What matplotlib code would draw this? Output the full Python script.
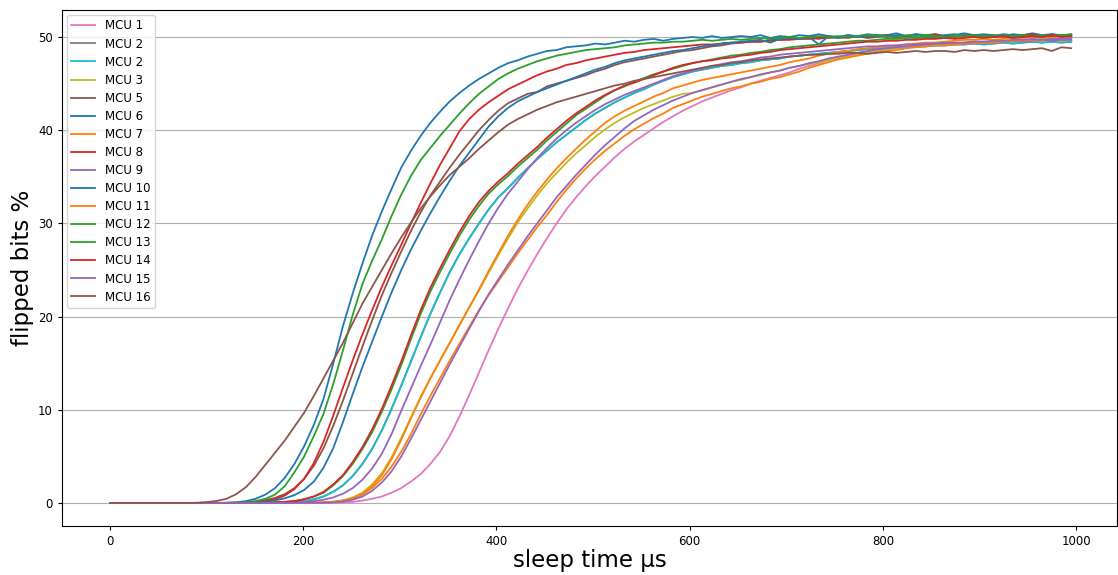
import numpy as np
import matplotlib
matplotlib.use("Agg")
import matplotlib.pyplot as plt

# sleep time grid (µs)
sleep_us = np.linspace(0, 995, 100)

# flipped bits (%) per MCU at ~10 µs steps
mcu1 = [0, 0, 0, 0, 0, 0, 0, 0, 0, 0,
        0, 0, 0, 0, 0, 0, 0, 0, 0, 0,
        0.01, 0.01, 0.02, 0.04, 0.07, 0.12, 0.25, 0.45, 0.7, 1.1,
        1.6, 2.3, 3.1, 4.2, 5.5, 7.2, 9.3, 11.6, 14.0, 16.4,
        18.7, 20.9, 23.0, 24.9, 26.7, 28.4, 30.0, 31.5, 32.8, 34.0,
        35.1, 36.1, 37.1, 38.0, 38.8, 39.5, 40.2, 40.9, 41.5, 42.1,
        42.6, 43.1, 43.5, 43.9, 44.3, 44.6, 45.0, 45.3, 45.6, 45.9,
        46.2, 46.6, 46.9, 47.2, 47.5, 47.8, 48.0, 48.2, 48.4, 48.6,
        48.7, 48.8, 48.9, 49.0, 49.0, 49.1, 49.2, 49.2, 49.3, 49.3,
        49.4, 49.4, 49.5, 49.4, 49.5, 49.5, 49.6, 49.5, 49.6, 49.6]
mcu2 = [0, 0, 0, 0, 0, 0, 0, 0, 0, 0,
        0, 0, 0, 0, 0, 0.01, 0.02, 0.03, 0.05, 0.08,
        0.2, 0.4, 0.7, 1.2, 1.9, 2.9, 4.2, 5.8, 7.8, 10.1,
        12.6, 15.2, 17.8, 20.3, 22.6, 24.8, 26.7, 28.4, 30.0, 31.5,
        32.8, 33.8, 34.9, 35.9, 36.9, 37.8, 38.7, 39.5, 40.3, 41.1,
        41.8, 42.4, 43.0, 43.5, 44.0, 44.4, 44.9, 45.3, 45.7, 46.0,
        46.3, 46.5, 46.7, 46.9, 47.0, 47.2, 47.3, 47.5, 47.6, 47.7,
        47.9, 48.0, 48.1, 48.2, 48.3, 48.4, 48.5, 48.6, 48.7, 48.7,
        48.8, 48.9, 48.9, 49.0, 49.0, 49.1, 49.1, 49.2, 49.2, 49.3,
        49.2, 49.3, 49.4, 49.3, 49.4, 49.5, 49.4, 49.5, 49.4, 49.5]
mcu3 = [0, 0, 0, 0, 0, 0, 0, 0, 0, 0,
        0, 0, 0, 0, 0, 0, 0, 0, 0.01, 0.01,
        0.02, 0.04, 0.08, 0.15, 0.3, 0.6, 1.1, 2.0, 3.2, 4.9,
        7.0, 9.2, 11.4, 13.4, 15.3, 17.2, 19.1, 21.0, 22.8, 24.7,
        26.6, 28.4, 30.1, 31.6, 33.0, 34.3, 35.4, 36.5, 37.5, 38.4,
        39.3, 40.1, 40.8, 41.4, 41.9, 42.4, 42.8, 43.2, 43.6, 43.9,
        44.0, 44.3, 44.6, 44.9, 45.2, 45.4, 45.7, 45.9, 46.2, 46.4,
        46.7, 46.9, 47.1, 47.3, 47.5, 47.7, 47.9, 48.1, 48.3, 48.4,
        48.7, 48.8, 48.9, 49.0, 49.1, 49.2, 49.2, 49.3, 49.4, 49.4,
        49.5, 49.5, 49.6, 49.5, 49.6, 49.7, 49.6, 49.7, 49.6, 49.7]
mcu5 = [0, 0, 0, 0, 0, 0, 0, 0, 0, 0,
        0, 0, 0.01, 0.03, 0.07, 0.15, 0.3, 0.55, 0.95, 1.6,
        2.6, 4.0, 5.9, 8.3, 11.0, 13.9, 16.8, 19.6, 22.3, 24.7,
        27.0, 29.2, 31.2, 33.0, 34.5, 36.0, 37.4, 38.7, 40.0, 41.1,
        42.1, 42.9, 43.4, 43.9, 44.1, 44.7, 45.0, 45.3, 45.6, 45.9,
        46.3, 46.6, 47.0, 47.3, 47.5, 47.7, 47.9, 48.1, 48.3, 48.5,
        48.6, 48.8, 49.0, 49.1, 49.3, 49.4, 49.5, 49.5, 49.7, 49.7,
        49.8, 49.8, 49.9, 49.8, 50.0, 49.9, 50.0, 50.1, 49.9, 50.0,
        50.1, 50.0, 50.1, 49.9, 50.0, 50.1, 50.0, 50.1, 50.2, 50.0,
        50.1, 50.0, 50.1, 50.2, 50.0, 50.1, 50.0, 50.1, 50.2, 50.1]
mcu6 = [0, 0, 0, 0, 0, 0, 0, 0, 0, 0,
        0, 0.01, 0.03, 0.08, 0.2, 0.45, 0.9, 1.6, 2.7, 4.2,
        6.1, 8.4, 11.2, 15.0, 19.0, 22.5, 25.7, 28.7, 31.3, 33.7,
        36.0, 37.8, 39.4, 40.8, 42.0, 43.1, 44.0, 44.8, 45.5, 46.1,
        46.7, 47.2, 47.5, 47.9, 48.2, 48.5, 48.6, 48.9, 49.0, 49.1,
        49.3, 49.2, 49.4, 49.6, 49.5, 49.7, 49.8, 49.6, 49.8, 49.9,
        50.0, 49.9, 50.1, 49.9, 50.0, 50.1, 50.0, 50.2, 49.9, 50.1,
        50.0, 50.2, 50.1, 50.3, 50.1, 50.0, 50.2, 50.1, 50.3, 50.2,
        50.2, 50.4, 50.1, 50.3, 50.2, 50.3, 50.1, 50.2, 50.4, 50.2,
        50.3, 50.2, 50.1, 50.3, 50.2, 50.4, 50.2, 50.3, 50.1, 50.2]
mcu7 = [0, 0, 0, 0, 0, 0, 0, 0, 0, 0,
        0, 0, 0, 0, 0, 0, 0, 0, 0.01, 0.01,
        0.02, 0.03, 0.06, 0.12, 0.25, 0.5, 1.0, 1.8, 3.0, 4.7,
        6.8, 9.1, 11.3, 13.4, 15.3, 17.2, 19.1, 21.0, 22.9, 24.9,
        26.8, 28.7, 30.4, 32.0, 33.4, 34.7, 35.9, 37.0, 38.0, 39.0,
        39.9, 40.8, 41.5, 42.1, 42.6, 43.1, 43.6, 44.0, 44.5, 44.8,
        45.1, 45.4, 45.6, 45.8, 46.0, 46.2, 46.4, 46.6, 46.8, 47.0,
        47.3, 47.5, 47.7, 48.0, 48.2, 48.4, 48.5, 48.7, 48.8, 48.9,
        49.0, 49.1, 49.2, 49.3, 49.4, 49.4, 49.5, 49.6, 49.7, 49.7,
        49.8, 49.7, 49.8, 49.9, 49.9, 50.0, 49.9, 50.0, 50.1, 50.0]
mcu8 = [0, 0, 0, 0, 0, 0, 0, 0, 0, 0,
        0, 0, 0, 0.01, 0.03, 0.08, 0.18, 0.4, 0.8, 1.5,
        2.6, 4.3, 6.6, 9.4, 12.4, 15.3, 18.1, 20.7, 23.2, 25.5,
        27.7, 30.0, 32.2, 34.3, 36.3, 38.1, 39.9, 41.2, 42.2, 43.0,
        43.7, 44.4, 44.9, 45.4, 45.9, 46.3, 46.6, 47.0, 47.2, 47.5,
        47.7, 47.9, 48.1, 48.3, 48.4, 48.6, 48.7, 48.8, 48.9, 49.0,
        49.1, 49.2, 49.2, 49.3, 49.4, 49.4, 49.5, 49.5, 49.6, 49.7,
        49.7, 49.8, 49.8, 49.9, 49.9, 50.0, 49.9, 50.1, 50.0, 50.1,
        50.2, 50.0, 50.1, 50.2, 50.1, 50.3, 50.1, 50.0, 50.2, 50.1,
        50.2, 50.1, 50.2, 50.0, 50.2, 50.3, 50.1, 50.2, 50.1, 50.2]
mcu9 = [0, 0, 0, 0, 0, 0, 0, 0, 0, 0,
        0, 0, 0, 0, 0, 0, 0.01, 0.02, 0.03, 0.05,
        0.1, 0.2, 0.35, 0.6, 1.0, 1.6, 2.5, 3.7, 5.3, 7.4,
        9.9, 12.3, 14.7, 17.0, 19.4, 21.8, 24.0, 26.1, 28.1, 30.0,
        31.7, 33.2, 34.5, 35.8, 37.0, 38.1, 39.1, 40.0, 40.8, 41.5,
        42.2, 42.8, 43.3, 43.8, 44.2, 44.6, 45.0, 45.4, 45.8, 46.1,
        46.4, 46.6, 46.9, 47.1, 47.3, 47.4, 47.6, 47.8, 47.9, 48.1,
        48.2, 48.3, 48.4, 48.5, 48.6, 48.7, 48.8, 48.9, 49.0, 49.0,
        49.1, 49.1, 49.2, 49.2, 49.3, 49.3, 49.4, 49.3, 49.4, 49.5,
        49.5, 49.4, 49.5, 49.6, 49.5, 49.6, 49.7, 49.6, 49.7, 49.7]
mcu10 = [0, 0, 0, 0, 0, 0, 0, 0, 0, 0,
         0, 0, 0, 0.01, 0.03, 0.07, 0.14, 0.28, 0.5, 0.85,
         1.4, 2.3, 3.8, 5.9, 8.7, 11.7, 14.6, 17.3, 20.0, 22.6,
         25.0, 27.2, 29.2, 31.1, 32.9, 34.6, 36.2, 37.6, 39.0, 40.4,
         41.5, 42.4, 43.1, 43.6, 44.1, 44.5, 44.9, 45.3, 45.7, 46.1,
         46.5, 46.8, 47.2, 47.5, 47.7, 47.9, 48.1, 48.3, 48.5, 48.6,
         48.8, 49.0, 49.1, 49.3, 49.4, 49.5, 49.6, 49.7, 49.4, 49.8,
         49.9, 49.8, 50.0, 49.2, 50.1, 49.9, 50.2, 50.0, 50.1, 50.2,
         50.0, 50.2, 50.1, 50.3, 50.1, 50.0, 50.2, 50.3, 50.1, 50.2,
         50.2, 50.1, 50.3, 50.2, 50.0, 50.2, 50.1, 50.3, 50.2, 50.1]
mcu11 = [0, 0, 0, 0, 0, 0, 0, 0, 0, 0,
         0, 0, 0, 0, 0, 0, 0, 0, 0, 0,
         0.01, 0.02, 0.04, 0.08, 0.2, 0.45, 0.9, 1.6, 2.6, 3.9,
         5.5, 7.4, 9.5, 11.5, 13.4, 15.3, 17.1, 18.9, 20.7, 22.3,
         23.8, 25.3, 26.8, 28.2, 29.6, 30.9, 32.3, 33.6, 34.8, 35.9,
         36.9, 37.8, 38.6, 39.4, 40.1, 40.7, 41.3, 41.8, 42.4, 42.8,
         43.2, 43.6, 43.9, 44.2, 44.5, 44.7, 45.0, 45.2, 45.5, 45.7,
         46.0, 46.3, 46.7, 47.0, 47.3, 47.6, 47.8, 48.0, 48.2, 48.4,
         48.5, 48.6, 48.8, 48.9, 49.0, 49.1, 49.1, 49.2, 49.3, 49.3,
         49.4, 49.4, 49.5, 49.6, 49.6, 49.7, 49.7, 49.8, 49.8, 49.9]
mcu12 = [0, 0, 0, 0, 0, 0, 0, 0, 0, 0,
         0, 0, 0.01, 0.03, 0.08, 0.2, 0.45, 0.9, 1.8, 3.3,
         5.0, 7.2, 9.6, 12.8, 16.4, 20.2, 23.5, 26.0, 28.3, 30.8,
         33.1, 35.1, 36.8, 38.1, 39.4, 40.6, 41.8, 42.9, 43.9, 44.7,
         45.5, 46.1, 46.6, 47.0, 47.4, 47.7, 48.0, 48.2, 48.4, 48.6,
         48.7, 48.8, 48.9, 49.1, 49.2, 49.3, 49.4, 49.4, 49.5, 49.5,
         49.6, 49.7, 49.6, 49.7, 49.8, 49.7, 49.8, 49.9, 49.8, 49.9,
         50.0, 49.9, 50.0, 50.1, 50.0, 50.1, 50.0, 50.1, 50.2, 50.1,
         50.1, 50.0, 50.2, 50.1, 50.2, 50.1, 50.0, 50.2, 50.1, 50.2,
         50.1, 50.2, 50.0, 50.1, 50.2, 50.1, 50.2, 50.1, 50.2, 50.3]
mcu13 = [0, 0, 0, 0, 0, 0, 0, 0, 0, 0,
         0, 0, 0, 0, 0.01, 0.02, 0.04, 0.07, 0.12, 0.2,
         0.4, 0.7, 1.1, 1.9, 2.9, 4.2, 5.8, 7.6, 9.8, 12.2,
         14.8, 17.6, 20.3, 22.7, 24.8, 26.8, 28.7, 30.4, 31.9, 33.2,
         34.2, 35.1, 36.1, 37.0, 37.9, 38.9, 39.8, 40.7, 41.6, 42.3,
         43.0, 43.7, 44.3, 44.7, 45.2, 45.6, 46.0, 46.3, 46.6, 46.9,
         47.2, 47.4, 47.6, 47.8, 48.0, 48.1, 48.3, 48.4, 48.6, 48.7,
         48.9, 49.0, 49.1, 49.2, 49.3, 49.4, 49.5, 49.6, 49.6, 49.7,
         49.8, 49.8, 49.9, 49.9, 50.0, 49.9, 50.0, 50.1, 50.0, 50.1,
         50.1, 50.0, 50.2, 50.1, 50.2, 50.1, 50.0, 50.2, 50.1, 50.3]
mcu14 = [0, 0, 0, 0, 0, 0, 0, 0, 0, 0,
         0, 0, 0, 0, 0.01, 0.02, 0.04, 0.07, 0.12, 0.2,
         0.4, 0.7, 1.2, 2.0, 3.0, 4.4, 6.0, 7.9, 10.1, 12.6,
         15.2, 18.0, 20.7, 23.1, 25.2, 27.2, 29.1, 30.8, 32.3, 33.5,
         34.5, 35.4, 36.4, 37.3, 38.2, 39.2, 40.1, 41.0, 41.8, 42.5,
         43.2, 43.8, 44.3, 44.8, 45.1, 45.5, 45.9, 46.3, 46.7, 47.0,
         47.2, 47.4, 47.5, 47.7, 47.8, 48.0, 48.1, 48.3, 48.4, 48.6,
         48.7, 48.8, 48.9, 49.0, 49.1, 49.2, 49.3, 49.4, 49.5, 49.5,
         49.6, 49.6, 49.7, 49.7, 49.8, 49.8, 49.9, 49.8, 49.9, 50.0,
         49.9, 50.0, 50.1, 49.9, 50.0, 50.1, 50.0, 50.2, 50.0, 50.1]
mcu15 = [0, 0, 0, 0, 0, 0, 0, 0, 0, 0,
         0, 0, 0, 0, 0, 0, 0, 0, 0, 0,
         0.01, 0.02, 0.03, 0.06, 0.15, 0.35, 0.7, 1.3, 2.2, 3.4,
         5.0, 6.9, 8.9, 10.9, 12.9, 14.9, 16.8, 18.7, 20.6, 22.4,
         24.0, 25.6, 27.1, 28.6, 30.0, 31.4, 32.8, 34.0, 35.2, 36.3,
         37.4, 38.4, 39.3, 40.2, 41.0, 41.6, 42.2, 42.7, 43.2, 43.6,
         44.0, 44.3, 44.6, 44.9, 45.2, 45.5, 45.7, 46.0, 46.2, 46.4,
         46.7, 46.9, 47.2, 47.4, 47.7, 47.9, 48.1, 48.3, 48.5, 48.7,
         48.8, 48.9, 49.0, 49.1, 49.2, 49.3, 49.3, 49.4, 49.4, 49.5,
         49.5, 49.6, 49.6, 49.7, 49.7, 49.8, 49.7, 49.8, 49.8, 49.9]
mcu16 = [0, 0, 0, 0, 0, 0, 0, 0, 0, 0.03,
         0.1, 0.22, 0.45, 0.95, 1.7, 2.8, 4.1, 5.4, 6.7, 8.2,
         9.7, 11.5, 13.4, 15.3, 17.2, 19.3, 21.4, 23.2, 25.0, 26.8,
         28.5, 30.1, 31.6, 32.9, 34.1, 35.2, 36.1, 37.0, 38.0, 38.9,
         39.8, 40.6, 41.2, 41.7, 42.2, 42.6, 43.0, 43.3, 43.6, 43.9,
         44.2, 44.5, 44.8, 45.0, 45.3, 45.5, 45.7, 45.9, 46.1, 46.3,
         46.5, 46.7, 46.9, 47.0, 47.2, 47.3, 47.5, 47.6, 47.7, 47.8,
         47.9, 48.0, 48.1, 48.1, 48.2, 48.2, 48.3, 48.3, 48.2, 48.3,
         48.4, 48.3, 48.4, 48.5, 48.4, 48.5, 48.5, 48.4, 48.6, 48.5,
         48.6, 48.5, 48.6, 48.7, 48.6, 48.7, 48.8, 48.5, 48.9, 48.8]

labels = ["MCU 1", "MCU 2", "MCU 2", "MCU 3", "MCU 5", "MCU 6", "MCU 7", "MCU 8",
          "MCU 9", "MCU 10", "MCU 11", "MCU 12", "MCU 13", "MCU 14", "MCU 15", "MCU 16"]
series = [mcu1, mcu2, mcu2, mcu3, mcu5, mcu6, mcu7, mcu8,
          mcu9, mcu10, mcu11, mcu12, mcu13, mcu14, mcu15, mcu16]
colors = ["tab:pink", "tab:gray", "tab:cyan", "tab:olive", "tab:brown", "tab:blue",
          "tab:orange", "tab:red", "tab:purple", "tab:blue", "tab:orange", "tab:green",
          "tab:green", "tab:red", "tab:purple", "tab:brown"]

fig = plt.figure(figsize=(11.18, 5.75), dpi=100)
ax = fig.add_axes([62 / 1118, 49 / 575, 1055 / 1118, 516 / 575])

for vals, lab, col in zip(series, labels, colors):
    ax.plot(sleep_us, vals, color=col, linewidth=1.3, label=lab)

ax.set_xlim(-49.7, 1042.4)
ax.set_ylim(-2.47, 52.9)
ax.set_yticks([0, 10, 20, 30, 40, 50])
ax.grid(True, axis="y", color="#b0b0b0", linewidth=0.8)
ax.tick_params(labelsize=8.5, length=3)
ax.set_xlabel("sleep time µs", fontsize=16.5, labelpad=1)
ax.set_ylabel("flipped bits %", fontsize=16.5, labelpad=3)
ax.legend(loc="upper left", fontsize=8.5, borderaxespad=0.4, labelspacing=0.43)

fig.savefig("out.png", dpi=100)
